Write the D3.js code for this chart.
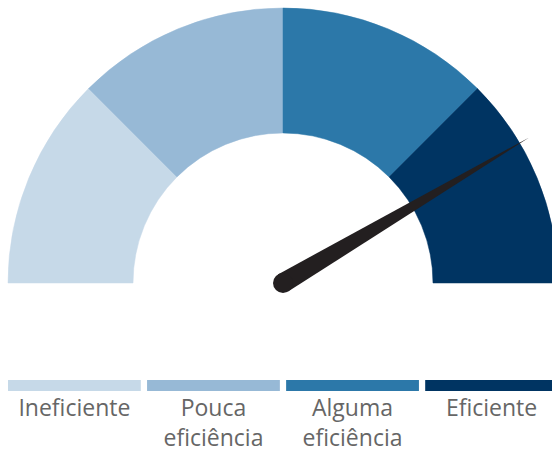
<!DOCTYPE html>
<html>
<head>
<meta charset="utf-8">
<script src="https://cdn.jsdelivr.net/npm/d3@7"></script>
<style>
  html, body { margin: 0; padding: 0; background: #fff; overflow: hidden; }
  svg { display: block; }
</style>
</head>
<body>
<svg id="chart" width="552" height="454"></svg>
<script>
// ---- data ----
const categories = ["Ineficiente", "Pouca eficiência", "Alguma eficiência", "Eficiente"];
const segmentStarts = [0, 25, 50, 75];
const segmentEnds = [25, 50, 75, 100];
const colors = ["#c6d9e8", "#97b9d6", "#2c78a9", "#003462"];
const needleValue = [83];

// ---- layout ----
const svg = d3.select("#chart");
const cx = 283, cy = 283;
const outerR = 275, innerR = 150;
const needleLen = 286, needleBaseR = 10;

const angle = d3.scaleLinear().domain([0, 100]).range([-Math.PI / 2, Math.PI / 2]);

const arc = d3.arc().innerRadius(innerR).outerRadius(outerR);

const g = svg.append("g").attr("transform", `translate(${cx},${cy})`);

g.selectAll("path.seg")
  .data(categories.map((c, i) => ({ c, s: segmentStarts[i], e: segmentEnds[i], col: colors[i] })))
  .join("path")
  .attr("class", "seg")
  .attr("d", d => arc({ startAngle: angle(d.s), endAngle: angle(d.e) }))
  .attr("fill", d => d.col)
  .attr("stroke", d => d.col)
  .attr("stroke-width", 0.5);

// needle
const th = angle(needleValue[0]);
const dx = Math.sin(th), dy = -Math.cos(th);
const px = -dy, py = dx; // perpendicular
const tip = [needleLen * dx, needleLen * dy];
const needlePath = d3.path();
needlePath.moveTo(needleBaseR * px, needleBaseR * py);
needlePath.lineTo(tip[0], tip[1]);
needlePath.lineTo(-needleBaseR * px, -needleBaseR * py);
needlePath.closePath();
g.append("path").attr("d", needlePath.toString()).attr("fill", "#231f20");
g.append("circle").attr("r", needleBaseR).attr("fill", "#231f20");

// legend
const x = d3.scaleBand().domain(categories).range([8, 558]).paddingInner(0.045);
const leg = svg.append("g");
leg.selectAll("rect")
  .data(categories)
  .join("rect")
  .attr("x", d => x(d))
  .attr("y", 380)
  .attr("width", x.bandwidth())
  .attr("height", 11)
  .attr("fill", (d, i) => colors[i]);

leg.selectAll("text")
  .data(categories)
  .join("text")
  .attr("x", d => x(d) + x.bandwidth() / 2)
  .attr("y", 416)
  .attr("text-anchor", "middle")
  .attr("fill", "#666666")
  .style("font-family", "'Open Sans', sans-serif")
  .style("font-size", "23px")
  .each(function (d) {
    const words = d.split(" ");
    d3.select(this).selectAll("tspan")
      .data(words)
      .join("tspan")
      .attr("x", x(d) + x.bandwidth() / 2)
      .attr("dy", (w, i) => i === 0 ? 0 : 30)
      .text(w => w);
  });
</script>
</body>
</html>
